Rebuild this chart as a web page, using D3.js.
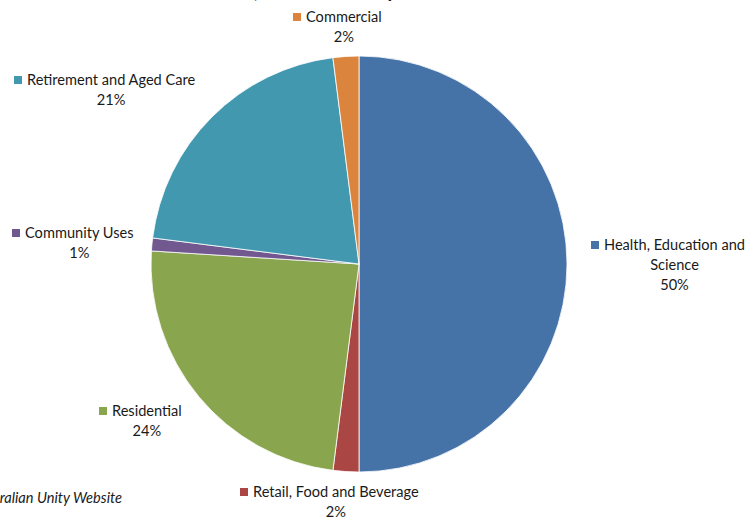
<!DOCTYPE html>
<html>
<head>
<meta charset="utf-8">
<script src="https://cdn.jsdelivr.net/npm/d3@7"></script>
<style>
  body { margin: 0; background: #fff; }
  text { font-family: Lato, "Open Sans", sans-serif; fill: #1a1a1a; }
</style>
</head>
<body>
<div class="chart"></div>
<script>
var svgWidth = 755;
var svgHeight = 518;

// Data
var sectors = ["Health, Education and Science", "Retail, Food and Beverage", "Residential",
  "Community Uses", "Retirement and Aged Care", "Commercial"];
var shares = [50, 2, 24, 1, 21, 2];
var colors = ["#4572A7", "#AA4643", "#89A54E", "#71588F", "#4198AF", "#DB843D"];

// label layout: left x of the marker square, y of first line, wrapped lines
var labelPos = [
  { x: 591, y: 245, lines: ["Health, Education and", "Science"] },
  { x: 240, y: 492, lines: ["Retail, Food and Beverage"] },
  { x: 99, y: 411, lines: ["Residential"] },
  { x: 12, y: 233, lines: ["Community Uses"] },
  { x: 14, y: 80, lines: ["Retirement and Aged Care"] },
  { x: 293, y: 17, lines: ["Commercial"] }
];

var cx = 359, cy = 264, radius = 208;
var fontSize = "14.6px";

var svg = d3.select(".chart")
  .append("svg")
  .attr("width", svgWidth)
  .attr("height", svgHeight);

// Title, mostly cut off at the top edge
svg.append("text")
  .attr("x", 256)
  .attr("y", -2)
  .attr("text-anchor", "middle")
  .style("font-size", "19px")
  .style("font-weight", "bold")
  .text("Gross Floor Area, Land Use Group");

var pie = d3.pie().sort(null).value(d => d);
var arc = d3.arc().innerRadius(0).outerRadius(radius);

var pieGroup = svg.append("g")
  .attr("transform", `translate(${cx}, ${cy})`);

pieGroup.selectAll("path")
  .data(pie(shares))
  .enter()
  .append("path")
  .attr("d", arc)
  .attr("fill", (d, i) => colors[i])
  .attr("stroke", "#fff")
  .attr("stroke-width", 0.8);

// Labels
var labels = svg.selectAll(".lbl")
  .data(labelPos)
  .enter()
  .append("g")
  .attr("class", "lbl")
  .attr("transform", d => `translate(${d.x}, ${d.y})`);

labels.append("rect")
  .attr("x", 0)
  .attr("y", -4)
  .attr("width", 8)
  .attr("height", 8)
  .attr("fill", (d, i) => colors[i]);

labels.each(function(d, i) {
  var g = d3.select(this);
  var first = g.append("text")
    .attr("x", 13)
    .attr("y", 0)
    .attr("dy", "0.35em")
    .style("font-size", fontSize)
    .text(d.lines[0]);
  var w = first.node().getComputedTextLength();
  var mid = 13 + w / 2;
  var rest = d.lines.slice(1).concat([shares[i] + "%"]);
  rest.forEach(function(t, k) {
    g.append("text")
      .attr("x", mid)
      .attr("y", 20 * (k + 1))
      .attr("dy", "0.35em")
      .attr("text-anchor", "middle")
      .style("font-size", fontSize)
      .text(t);
  });
});

// Source note, cut off at the left edge
svg.append("text")
  .attr("x", 122)
  .attr("y", 498)
  .attr("dy", "0.35em")
  .attr("text-anchor", "end")
  .style("font-size", fontSize)
  .style("font-style", "italic")
  .text("Source: Australian Unity Website");
</script>
</body>
</html>
